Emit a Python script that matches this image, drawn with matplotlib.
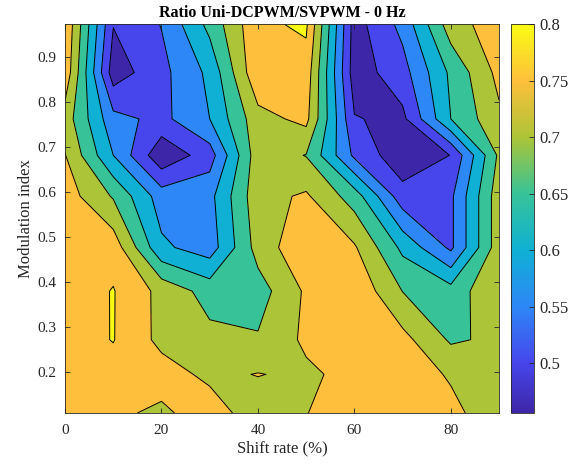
import numpy as np
import matplotlib
matplotlib.use("Agg")
import matplotlib.pyplot as plt
from matplotlib.colors import LinearSegmentedColormap, Normalize
from matplotlib.cm import ScalarMappable

plt.rcParams['font.family'] = ['Liberation Serif', 'DejaVu Serif']

# grid
shift_rate = [0, 10, 20, 30, 40, 50, 60, 70, 80, 90]
mod_index = [0.108, 0.194, 0.271, 0.379, 0.476, 0.590, 0.681, 0.762, 0.865, 0.972]

# ratio[i][j] -> mod_index[i], shift_rate[j]
ratio = [
    [0.765, 0.760, 0.740, 0.777, 0.720, 0.749, 0.770, 0.780, 0.762, 0.722],
    [0.770, 0.780, 0.773, 0.738, 0.752, 0.740, 0.767, 0.775, 0.745, 0.720],
    [0.775, 0.802, 0.736, 0.714, 0.705, 0.760, 0.780, 0.766, 0.693, 0.710],
    [0.770, 0.8025, 0.735, 0.680, 0.677, 0.758, 0.790, 0.699, 0.670, 0.745],
    [0.780, 0.780, 0.610, 0.574, 0.720, 0.790, 0.756, 0.638, 0.540, 0.730],
    [0.775, 0.695, 0.575, 0.585, 0.733, 0.757, 0.676, 0.520, 0.540, 0.730],
    [0.752, 0.600, 0.462, 0.526, 0.730, 0.698, 0.540, 0.465, 0.501, 0.710],
    [0.727, 0.566, 0.536, 0.600, 0.732, 0.764, 0.503, 0.488, 0.650, 0.740],
    [0.785, 0.473, 0.535, 0.612, 0.792, 0.780, 0.473, 0.530, 0.660, 0.765],
    [0.795, 0.502, 0.552, 0.665, 0.790, 0.808, 0.478, 0.565, 0.727, 0.778],
]

levels = [0.5, 0.55, 0.6, 0.65, 0.7, 0.75, 0.8]
color_limits = (0.4556, 0.8)
cbar_ticks = [0.5, 0.55, 0.6, 0.65, 0.7, 0.75, 0.8]
x_ticks = [0, 20, 40, 60, 80]
y_ticks = [0.2, 0.3, 0.4, 0.5, 0.6, 0.7, 0.8, 0.9]

# parula-like map (anchors sampled from the reference colorbar)
parula_pts = [
    (0.000, (0.243, 0.149, 0.659)),
    (0.129, (0.278, 0.275, 0.925)),
    (0.274, (0.180, 0.530, 0.965)),
    (0.419, (0.060, 0.690, 0.830)),
    (0.564, (0.215, 0.765, 0.595)),
    (0.710, (0.675, 0.770, 0.215)),
    (0.855, (0.993, 0.750, 0.235)),
    (1.000, (0.977, 0.984, 0.081)),
]
parula = LinearSegmentedColormap.from_list("parula", parula_pts, N=256)
norm = Normalize(*color_limits)

Z = np.array(ratio)
X, Y = np.meshgrid(shift_rate, mod_index)

# matlab colours each band by its lower level
bounds = [Z.min() - 0.01] + levels + [Z.max() + 0.01]
band_colors = parula(norm([color_limits[0]] + levels))

dark = (0.15, 0.15, 0.15)

fig = plt.figure(figsize=(5.86, 4.68), dpi=100)
ax = fig.add_axes([0.111, 0.1175, 0.7406, 0.8303])
cax = fig.add_axes([0.8715, 0.1175, 0.0403, 0.8303])

ax.contourf(X, Y, Z, levels=bounds, colors=band_colors)
ax.contour(X, Y, Z, levels=levels, colors="k", linewidths=0.7)

ax.set_xlim(min(shift_rate), max(shift_rate))
ax.set_ylim(min(mod_index), max(mod_index))
ax.set_xticks(x_ticks)
ax.set_yticks(y_ticks)
ax.set_yticklabels([f"{t:g}" for t in y_ticks])
ax.tick_params(direction="in", top=True, right=True, length=3.5, width=0.6,
               labelsize=11, colors=dark, labelcolor=dark)
ax.tick_params(axis="x", pad=8)
ax.tick_params(axis="y", pad=6)
for s in ax.spines.values():
    s.set_color(dark)
    s.set_linewidth(0.6)

ax.set_title("Ratio Uni-DCPWM/SVPWM - 0 Hz", fontsize=11.5, fontweight="bold", pad=5)
ax.set_xlabel("Shift rate (%)", fontsize=12, color=dark, labelpad=2)
ax.set_ylabel("Modulation index", fontsize=12, color=dark, labelpad=3)

cb = fig.colorbar(ScalarMappable(norm=norm, cmap=parula), cax=cax, ticks=cbar_ticks)
cb.ax.set_yticklabels([f"{t:g}" for t in cbar_ticks])
cb.ax.tick_params(direction="in", length=3.5, width=0.6, labelsize=12,
                  colors=dark, labelcolor=dark)
cb.outline.set_edgecolor(dark)
cb.outline.set_linewidth(0.6)

fig.savefig("out.png", dpi=100)
